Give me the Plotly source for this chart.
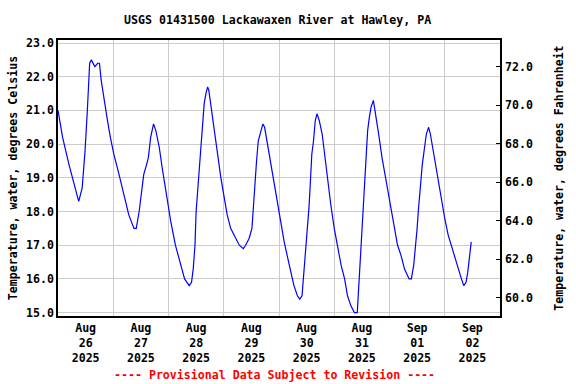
import pandas as pd
import plotly.graph_objects as go

# Hours since 2025-08-26 00:00 and water temperature (deg C)
hours = [0.0, 2.0, 4.75, 7.0, 9.0, 10.5, 11.75, 12.75, 13.75, 14.5, 16.0, 17.25, 18.0, 18.75,
         20.0, 21.5, 22.75, 24.25, 26.5, 28.5, 30.75, 33.0, 34.0, 35.25, 36.25, 37.25, 38.5,
         39.25, 40.25, 41.5, 42.5, 44.0, 45.25, 46.75, 49.0, 51.0, 53.25, 55.0, 57.0, 58.0,
         58.75, 59.5, 60.0, 61.0, 62.0, 62.75, 63.5, 64.25, 65.0, 65.5, 66.75, 67.75, 69.25,
         70.75, 72.25, 73.5, 75.0, 77.25, 78.75, 80.5, 81.5, 83.0, 84.25, 84.75, 85.5, 86.25,
         87.0, 87.75, 89.0, 89.75, 91.0, 92.5, 94.0, 95.5, 96.5, 98.25, 100.5, 102.5, 104.0,
         105.0, 106.0, 106.75, 107.5, 108.0, 109.0, 109.5, 110.25, 111.0, 111.75, 112.5, 113.5,
         114.75, 115.75, 117.25, 118.5, 120.0, 121.5, 123.0, 124.5, 125.75, 127.25, 128.75,
         130.0, 130.25, 131.0, 131.75, 132.5, 133.0, 133.75, 134.5, 135.25, 136.0, 137.0,
         137.5, 138.25, 139.5, 140.75, 142.25, 143.75, 144.75, 146.0, 147.5, 149.0, 150.5,
         152.5, 153.5, 154.5, 155.25, 156.0, 156.5, 157.25, 157.75, 158.25, 158.75, 159.5,
         160.0, 161.0, 161.75, 162.75, 164.0, 165.25, 166.5, 168.0, 169.5, 170.75, 172.25,
         173.75, 175.25, 176.25, 177.25, 178.0, 178.75, 179.5]
temps_c = [21.0, 20.2, 19.4, 18.8, 18.3, 18.7, 19.8, 21.0, 22.4, 22.5, 22.3, 22.4, 22.4, 21.9,
           21.3, 20.7, 20.2, 19.7, 19.1, 18.5, 17.9, 17.5, 17.5, 18.0, 18.6, 19.1, 19.4,
           19.6, 20.2, 20.6, 20.4, 19.9, 19.3, 18.6, 17.7, 17.0, 16.4, 16.0, 15.8, 15.9,
           16.3, 17.0, 18.0, 18.9, 19.9, 20.5, 21.2, 21.5, 21.7, 21.6, 21.0, 20.4, 19.7,
           19.0, 18.4, 17.9, 17.5, 17.2, 17.0, 16.9, 17.0, 17.2, 17.5, 18.0, 18.9, 19.5,
           20.1, 20.3, 20.6, 20.5, 20.0, 19.4, 18.8, 18.2, 17.8, 17.1, 16.4, 15.8, 15.5,
           15.4, 15.5, 16.1, 16.8, 17.3, 18.1, 18.7, 19.7, 20.1, 20.7, 20.9, 20.7,
           20.3, 19.7, 18.9, 18.2, 17.5, 16.9, 16.4, 16.0, 15.5, 15.2, 15.0,
           15.0, 15.3, 16.2, 17.0, 17.9, 18.8, 19.7, 20.4, 20.8, 21.1, 21.3,
           21.1, 20.8, 20.2, 19.6, 19.0, 18.5, 18.0, 17.5, 17.0, 16.7, 16.3,
           16.0, 16.0, 16.4, 16.9, 17.5, 18.0, 18.5, 19.0, 19.4, 19.7, 20.1,
           20.3, 20.5, 20.3, 19.9, 19.4, 18.9, 18.3, 17.8, 17.3, 17.0, 16.7,
           16.3, 16.0, 15.8, 15.9, 16.2, 16.6, 17.1]

day_starts = ["2025-08-26", "2025-08-27", "2025-08-28", "2025-08-29", "2025-08-30",
              "2025-08-31", "2025-09-01", "2025-09-02", "2025-09-03"]
day_labels = ["Aug<br>26<br>2025", "Aug<br>27<br>2025", "Aug<br>28<br>2025", "Aug<br>29<br>2025",
              "Aug<br>30<br>2025", "Aug<br>31<br>2025", "Sep<br>01<br>2025", "Sep<br>02<br>2025"]
c_ticks = [15, 16, 17, 18, 19, 20, 21, 22, 23]
f_ticks = [60, 62, 64, 66, 68, 70, 72]

start = pd.Timestamp("2025-08-26 00:00")
times = start + pd.to_timedelta(hours, unit="h")
noons = [pd.Timestamp(d) + pd.Timedelta(hours=12) for d in day_starts[:-1]]
temps_f = [t * 1.8 + 32 for t in temps_c]

FONT = "DejaVu Sans Mono"
TXT = dict(family=FONT, size=11.6, color="black", weight="bold")
fig = go.Figure()
fig.add_trace(go.Scatter(x=times, y=temps_c, mode="lines",
                         line=dict(color="#0000FF", width=1.2), showlegend=False,
                         hoverinfo="skip"))
# same series in Fahrenheit, invisible, only to carry the right-hand axis
fig.add_trace(go.Scatter(x=times, y=temps_f, mode="lines", yaxis="y2",
                         line=dict(color="rgba(0,0,0,0)", width=0), showlegend=False,
                         hoverinfo="skip"))

fig.update_layout(
    width=576, height=384,
    margin=dict(l=58, r=76, t=40, b=68, autoexpand=False),
    paper_bgcolor="white", plot_bgcolor="white",
    font=TXT,
    title=dict(text="USGS 01431500 Lackawaxen River at Hawley, PA",
               x=0.482, xanchor="center", y=0.948, yanchor="middle", font=TXT),
    xaxis=dict(range=[day_starts[0], day_starts[-1]],
               tickmode="array", tickvals=noons, ticktext=day_labels, tickfont=TXT,
               showgrid=False, ticks="", zeroline=False, automargin=False,
               showline=True, linecolor="black", linewidth=1.5, mirror=True,
               minor=dict(tickmode="array", tickvals=day_starts, showgrid=True,
                          gridcolor="#cccccc", gridwidth=1, ticks="")),
    yaxis=dict(range=[14.90, 23.09], tickmode="array", tickvals=c_ticks, tickfont=TXT,
               tickformat=".1f", showgrid=True, gridcolor="#cccccc", gridwidth=1,
               ticks="", zeroline=False, automargin=False,
               showline=True, linecolor="black", linewidth=1.5, mirror=True,
               title=dict(text="Temperature, water, degrees Celsius", standoff=6, font=TXT)),
    yaxis2=dict(range=[59.05, 73.38], overlaying="y", side="right",
                tickmode="array", tickvals=f_ticks, tickformat=".1f", tickfont=TXT,
                showgrid=False, zeroline=False, ticks="inside", ticklen=4,
                tickcolor="black", showline=False, automargin=False,
                ticklabelstandoff=4,
                title=dict(text="Temperature, water, degrees Fahrenheit", standoff=22,
                           font=TXT)),
    annotations=[dict(text="---- Provisional Data Subject to Revision ----",
                      xref="paper", yref="paper", x=0.49, y=-0.215, xanchor="center",
                      yanchor="middle", showarrow=False,
                      font=dict(family=FONT, size=11.6, color="red", weight="bold"))],
)

fig.write_html("out.html", config={"displayModeBar": False},
               post_script="document.body.style.margin='0px';")
